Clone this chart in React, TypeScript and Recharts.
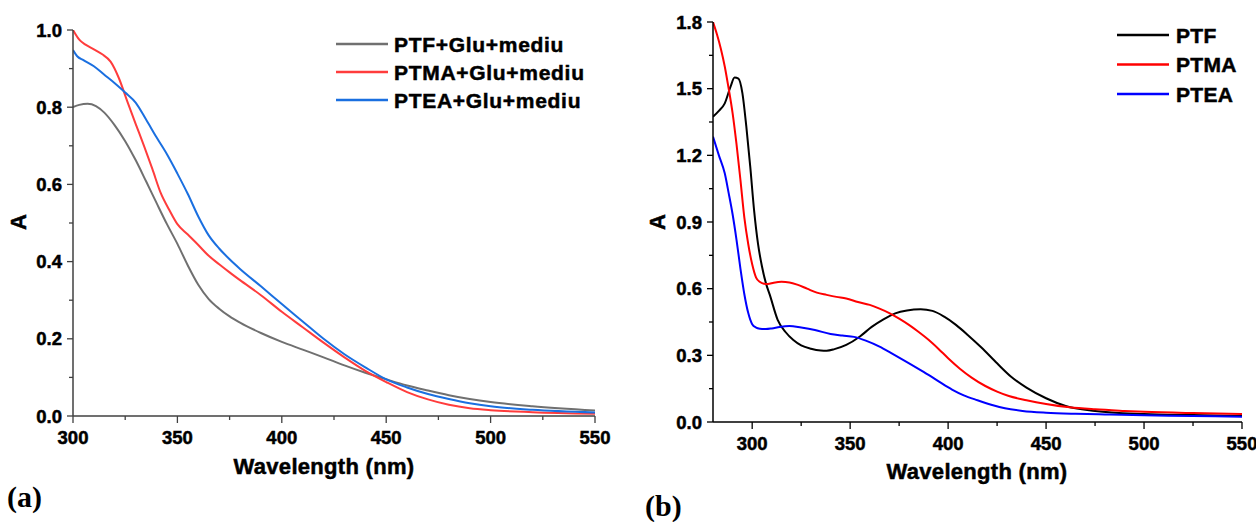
import React from 'react'
import { LineChart, Line, XAxis, YAxis } from 'recharts'

// ---- panel (a): absorbance with Glu + medium ----
const A_PTF_NM = [300, 303, 307, 311, 315, 320, 325, 330, 335, 340, 345, 350, 355, 360, 365, 370, 375, 380, 390, 400, 410, 420, 430, 440, 450, 460, 470, 480, 490, 500, 520, 550]
const A_PTF = [0.800, 0.806, 0.809, 0.803, 0.786, 0.753, 0.712, 0.663, 0.608, 0.552, 0.497, 0.446, 0.390, 0.340, 0.303, 0.278, 0.258, 0.242, 0.215, 0.192, 0.172, 0.152, 0.131, 0.112, 0.095, 0.079, 0.066, 0.054, 0.044, 0.036, 0.025, 0.014]

const A_PTMA_NM = [300, 303, 306, 310, 314, 318, 322, 326, 330, 334, 338, 342, 346, 350, 355, 360, 365, 370, 375, 380, 390, 400, 410, 420, 430, 440, 450, 460, 470, 480, 490, 500, 520, 550]
const A_PTMA = [1.000, 0.975, 0.962, 0.950, 0.937, 0.918, 0.875, 0.815, 0.757, 0.700, 0.640, 0.578, 0.535, 0.497, 0.470, 0.443, 0.415, 0.393, 0.372, 0.352, 0.313, 0.270, 0.230, 0.190, 0.152, 0.117, 0.088, 0.062, 0.043, 0.029, 0.020, 0.015, 0.010, 0.006]

const A_PTEA_NM = [300, 302, 305, 310, 315, 320, 325, 330, 335, 340, 345, 350, 355, 360, 365, 370, 375, 380, 390, 400, 410, 420, 430, 440, 450, 460, 470, 480, 490, 500, 520, 550]
const A_PTEA = [0.948, 0.932, 0.922, 0.906, 0.884, 0.862, 0.838, 0.812, 0.768, 0.722, 0.678, 0.628, 0.575, 0.517, 0.468, 0.434, 0.406, 0.381, 0.336, 0.290, 0.245, 0.200, 0.160, 0.126, 0.095, 0.074, 0.057, 0.044, 0.033, 0.025, 0.016, 0.009]

const A_X_MAJOR = [300, 350, 400, 450, 500, 550]
const A_X_MINOR = [325, 375, 425, 475, 525]
const A_Y_MAJOR = [0, 0.2, 0.4, 0.6, 0.8, 1.0]
const A_Y_MINOR = [0.1, 0.3, 0.5, 0.7, 0.9]

// ---- panel (b): polymers alone ----
const B_PTF_NM = [280, 283, 286, 289, 291, 293, 295, 297, 299, 301, 303, 305, 307, 309, 313, 317, 321, 325, 330, 335, 338, 342, 348, 355, 361, 367, 373, 379, 386, 392, 398, 404, 410, 417, 425, 432, 440, 450, 460, 475, 500, 525, 550]
const B_PTF = [1.374, 1.400, 1.434, 1.510, 1.550, 1.545, 1.480, 1.330, 1.150, 0.950, 0.800, 0.700, 0.625, 0.572, 0.460, 0.405, 0.369, 0.345, 0.330, 0.322, 0.321, 0.328, 0.347, 0.385, 0.428, 0.462, 0.489, 0.502, 0.507, 0.500, 0.474, 0.437, 0.392, 0.335, 0.264, 0.205, 0.155, 0.107, 0.072, 0.050, 0.036, 0.031, 0.027]

const B_PTMA_NM = [280, 282, 284, 286, 288, 290, 292, 294, 296, 298, 300, 302, 304, 306, 308, 311, 315, 319, 323, 328, 333, 338, 343, 348, 354, 360, 365, 370, 375, 380, 385, 390, 395, 400, 406, 412, 419, 425, 431, 440, 450, 462, 475, 490, 500, 525, 550]
const B_PTMA = [1.800, 1.745, 1.680, 1.600, 1.500, 1.390, 1.250, 1.090, 0.920, 0.800, 0.710, 0.650, 0.630, 0.622, 0.621, 0.627, 0.631, 0.628, 0.618, 0.600, 0.582, 0.572, 0.563, 0.556, 0.540, 0.527, 0.510, 0.490, 0.465, 0.437, 0.405, 0.370, 0.330, 0.287, 0.240, 0.200, 0.162, 0.137, 0.117, 0.098, 0.081, 0.066, 0.057, 0.050, 0.046, 0.040, 0.036]

const B_PTEA_NM = [280, 283, 286, 288, 290, 292, 294, 296, 298, 300, 302, 304, 307, 310, 314, 319, 325, 332, 340, 346, 352, 358, 365, 371, 377, 384, 390, 396, 402, 408, 415, 422, 429, 438, 450, 465, 480, 500, 525, 550]
const B_PTEA = [1.284, 1.200, 1.119, 1.030, 0.935, 0.820, 0.690, 0.575, 0.490, 0.440, 0.425, 0.420, 0.418, 0.421, 0.428, 0.432, 0.425, 0.414, 0.396, 0.389, 0.383, 0.366, 0.339, 0.310, 0.280, 0.244, 0.212, 0.178, 0.146, 0.120, 0.098, 0.078, 0.062, 0.050, 0.042, 0.037, 0.034, 0.030, 0.027, 0.024]

const B_X_MAJOR = [300, 350, 400, 450, 500, 550]
const B_X_MINOR = [325, 375, 425, 475, 525]
const B_Y_MAJOR = [0, 0.3, 0.6, 0.9, 1.2, 1.5, 1.8]
const B_Y_MINOR = [0.15, 0.45, 0.75, 1.05, 1.35, 1.65]

const FONT = '"Liberation Sans", Arial, sans-serif'
const SERIF = '"Liberation Serif", "Times New Roman", serif'

const zip = (xs: number[], ys: number[]) => xs.map((x, i) => ({ x, y: ys[i] }))

const seriesA = [
  { name: 'PTF+Glu+mediu', color: '#707070', data: zip(A_PTF_NM, A_PTF) },
  { name: 'PTMA+Glu+mediu', color: '#ff3c3c', data: zip(A_PTMA_NM, A_PTMA) },
  { name: 'PTEA+Glu+mediu', color: '#1a6fe0', data: zip(A_PTEA_NM, A_PTEA) },
]

const seriesB = [
  { name: 'PTF', color: '#000000', data: zip(B_PTF_NM, B_PTF) },
  { name: 'PTMA', color: '#ff0000', data: zip(B_PTMA_NM, B_PTMA) },
  { name: 'PTEA', color: '#0000ff', data: zip(B_PTEA_NM, B_PTEA) },
]

// heavier look of the original bold labels
const boldStyle: React.CSSProperties = {
  fontFamily: FONT,
  fontWeight: 700,
  fill: '#000',
  stroke: '#000',
  strokeWidth: 0.5,
}

const isIn = (list: number[], v: number) => list.some(m => Math.abs(m - v) < 1e-6)

function xTick(majors: number[], color: string) {
  return (props: any) => {
    const { x, y, payload } = props
    const major = isIn(majors, payload.value)
    return (
      <g>
        <line x1={x} x2={x} y1={y} y2={y + (major ? 7 : 4)} stroke={color} strokeWidth={1.3} />
        {major && (
          <text x={x} y={y + 28} textAnchor="middle" style={{ ...boldStyle, fontSize: 18.5 }}>
            {payload.value}
          </text>
        )}
      </g>
    )
  }
}

function yTick(majors: number[], color: string) {
  return (props: any) => {
    const { x, y, payload } = props
    const major = isIn(majors, payload.value)
    return (
      <g>
        <line x1={x} x2={x - (major ? 6 : 4)} y1={y} y2={y} stroke={color} strokeWidth={1.3} />
        {major && (
          <text x={x - 11} y={y + 6.5} textAnchor="end" style={{ ...boldStyle, fontSize: 18.5 }}>
            {payload.value.toFixed(1)}
          </text>
        )}
      </g>
    )
  }
}

const sortNum = (a: number[], b: number[]) => [...a, ...b].sort((p, q) => p - q)

export default function App() {
  const axisA = '#404040'
  const axisB = '#000000'
  return (
    <div style={{ position: 'absolute', left: 0, top: 0, width: 1256, height: 522, background: '#fff' }}>
      <div style={{ position: 'absolute', left: 0, top: 0 }}>
        <LineChart width={620} height={522} margin={{ top: 30, right: 25, bottom: 76, left: 13 }}>
          <XAxis
            type="number"
            dataKey="x"
            domain={[300, 550]}
            ticks={sortNum(A_X_MAJOR, A_X_MINOR)}
            interval={0}
            allowDataOverflow
            height={30}
            tickSize={0}
            tickMargin={0}
            tickLine={false}
            axisLine={{ stroke: axisA, strokeWidth: 1.5 }}
            tick={xTick(A_X_MAJOR, axisA)}
          />
          <YAxis
            type="number"
            dataKey="y"
            domain={[0, 1]}
            ticks={sortNum(A_Y_MAJOR, A_Y_MINOR)}
            interval={0}
            allowDataOverflow
            width={60}
            tickSize={0}
            tickMargin={0}
            tickLine={false}
            axisLine={{ stroke: axisA, strokeWidth: 1.5 }}
            tick={yTick(A_Y_MAJOR, axisA)}
          />
          {seriesA.map(s => (
            <Line
              key={s.name}
              data={s.data}
              dataKey="y"
              name={s.name}
              type="monotone"
              stroke={s.color}
              strokeWidth={2}
              dot={false}
              activeDot={false}
              isAnimationActive={false}
            />
          ))}
        </LineChart>
      </div>
      <div style={{ position: 'absolute', left: 636, top: 0 }}>
        <LineChart width={620} height={522} margin={{ top: 22, right: 14, bottom: 70, left: 17 }}>
          <XAxis
            type="number"
            dataKey="x"
            domain={[280, 550]}
            ticks={sortNum(B_X_MAJOR, B_X_MINOR)}
            interval={0}
            allowDataOverflow
            height={30}
            tickSize={0}
            tickMargin={0}
            tickLine={false}
            axisLine={{ stroke: axisB, strokeWidth: 1.5 }}
            tick={xTick(B_X_MAJOR, axisB)}
          />
          <YAxis
            type="number"
            dataKey="y"
            domain={[0, 1.8]}
            ticks={sortNum(B_Y_MAJOR, B_Y_MINOR)}
            interval={0}
            allowDataOverflow
            width={60}
            tickSize={0}
            tickMargin={0}
            tickLine={false}
            axisLine={{ stroke: axisB, strokeWidth: 1.5 }}
            tick={yTick(B_Y_MAJOR, axisB)}
          />
          {seriesB.map(s => (
            <Line
              key={s.name}
              data={s.data}
              dataKey="y"
              name={s.name}
              type="monotone"
              stroke={s.color}
              strokeWidth={2}
              dot={false}
              activeDot={false}
              isAnimationActive={false}
            />
          ))}
        </LineChart>
      </div>
      <svg width={1256} height={522} style={{ position: 'absolute', left: 0, top: 0, pointerEvents: 'none' }}>
        {seriesA.map((s, i) => (
          <g key={s.name}>
            <line x1={336} x2={388} y1={44 + i * 28} y2={44 + i * 28} stroke={s.color} strokeWidth={2.5} />
            <text x={394} y={44 + i * 28 + 7.5} letterSpacing={0.7} style={{ ...boldStyle, fontSize: 21 }}>
              {s.name}
            </text>
          </g>
        ))}
        {seriesB.map((s, i) => (
          <g key={s.name}>
            <line x1={1117} x2={1169} y1={35 + i * 29.5} y2={35 + i * 29.5} stroke={s.color} strokeWidth={2.5} />
            <text x={1176} y={35 + i * 29.5 + 7.5} letterSpacing={0.3} style={{ ...boldStyle, fontSize: 21 }}>
              {s.name}
            </text>
          </g>
        ))}
        <text x={324} y={474} textAnchor="middle" letterSpacing={0.3} style={{ ...boldStyle, fontSize: 22 }}>
          Wavelength (nm)
        </text>
        <text x={977} y={479} textAnchor="middle" letterSpacing={0.3} style={{ ...boldStyle, fontSize: 22 }}>
          Wavelength (nm)
        </text>
        <text transform="translate(26,222) rotate(-90)" textAnchor="middle" style={{ ...boldStyle, fontSize: 22 }}>
          A
        </text>
        <text transform="translate(665,222) rotate(-90)" textAnchor="middle" style={{ ...boldStyle, fontSize: 22 }}>
          A
        </text>
        <text x={7} y={507} fontFamily={SERIF} fontWeight="bold" fontSize={30} fill="#000">
          (a)
        </text>
        <text x={645} y={516} fontFamily={SERIF} fontWeight="bold" fontSize={30} fill="#000">
          (b)
        </text>
      </svg>
    </div>
  )
}
